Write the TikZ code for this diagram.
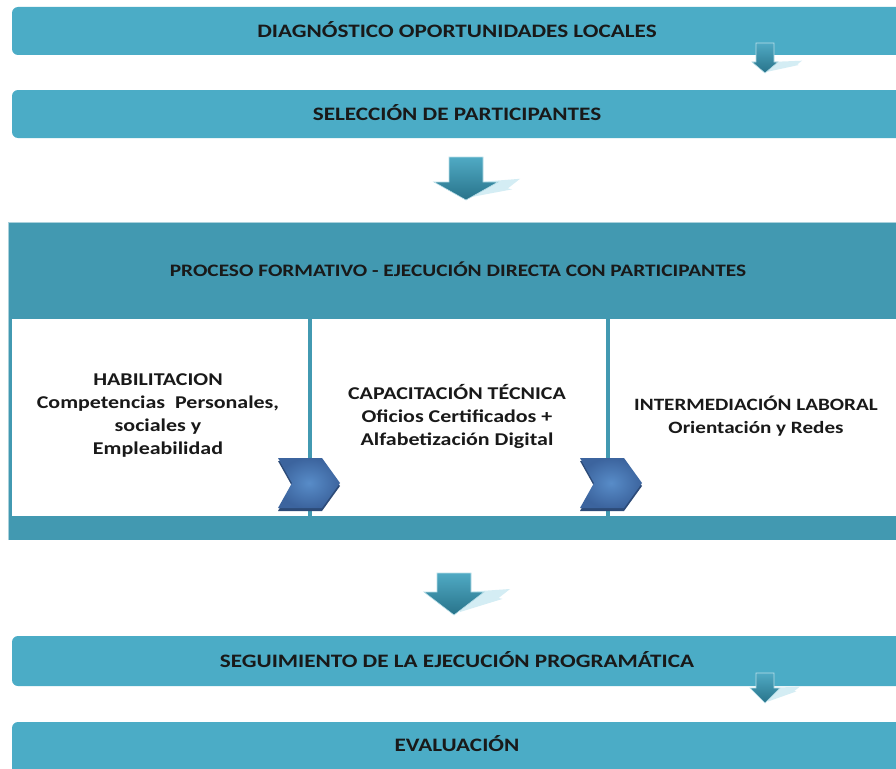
\documentclass[tikz,border=0pt]{standalone}
\usepackage{fontspec}
\setmainfont{Carlito}[FakeStretch=1.22]
\definecolor{barc}{RGB}{75,172,198}
\definecolor{boxc}{RGB}{66,153,177}
\definecolor{chevc}{RGB}{60,100,158}
\definecolor{chevl}{RGB}{88,140,200}
\definecolor{chevd}{RGB}{45,75,120}
\definecolor{shad}{RGB}{212,237,244}
\definecolor{arrtop}{RGB}{80,170,196}
\definecolor{arrbot}{RGB}{40,115,138}
\tikzset{
  bar/.style={fill=barc, rounded corners=6pt},
  lbl/.style={font=\bfseries\fontsize{18}{23}\selectfont, align=center, text=black!90, inner sep=0pt},
  hlbl/.style={lbl, font=\bfseries\fontsize{19}{23}\selectfont},
}
\newcommand{\blockarrow}[7]{%
  \fill[shad] ({#1+0.4*#6},{#3}) -- ({#7},{#3-0.1*#6}) -- ({#7-0.38*#6},{#3+0.2*#6}) -- ({#7-0.25*#6},{#3+0.23*#6}) -- ({#1+0.2*#6},{#4-0.1*#6}) -- cycle;
  \shade[top color=arrtop, bottom color=arrbot, draw=white!60!barc, line width=0.6pt]
    ({#1-#5},{#2}) -- ({#1+#5},{#2}) -- ({#1+#5},{#3}) -- ({#1+#6},{#3}) -- ({#1},{#4}) -- ({#1-#6},{#3}) -- ({#1-#5},{#3}) -- cycle;
}
\newcommand{\chevshape}[2]{%
  \fill[chevd] ({#1},{#2-22}) -- ({#1+44},{#2-22}) -- ({#1+62},{#2+3}) -- ({#1+44},{#2+28}) -- ({#1},{#2+28}) -- ({#1+14},{#2+3}) -- cycle;
  \shade[inner color=chevl, outer color=chevc] ({#1},{#2-25}) -- ({#1+44},{#2-25}) -- ({#1+62},{#2}) -- ({#1+44},{#2+25}) -- ({#1},{#2+25}) -- ({#1+14},{#2}) -- cycle;
}
\begin{document}
\begin{tikzpicture}[x=1pt,y=-1pt]
\useasboundingbox (0,0) rectangle (896,768);
\clip (0,0) rectangle (896,768);
\fill[white] (0,0) rectangle (896,768);
% top bars
\fill[bar] (12,7) rectangle (910,55);
\fill[bar] (12,90) rectangle (910,138);
\node[hlbl] (t1) at (457,30) {DIAGNÓSTICO OPORTUNIDADES LOCALES};
\node[hlbl] (t2) at (457,113) {SELECCIÓN DE PARTICIPANTES};
\blockarrow{765}{43}{62}{73}{9}{13}{802}
\blockarrow{466}{157}{182}{200}{17}{32}{520}
% big box
\fill[boxc] (8,222) rectangle (910,540);
\draw[white!55!boxc, line width=0.8pt] (8.4,540) -- (8.4,222.4) -- (910,222.4);
\fill[white] (12,319) rectangle (910,516);
\fill[boxc] (308,319) rectangle (312,516);
\fill[boxc] (606,319) rectangle (610,516);
\node[lbl, font=\bfseries\fontsize{17.5}{23}\selectfont] (t3) at (458,269) {PROCESO FORMATIVO - EJECUCIÓN DIRECTA CON PARTICIPANTES};
\node[lbl] (h) at (158,416) {HABILITACION\\Competencias\ \ Personales,\\sociales y\\Empleabilidad};
\node[lbl] (c) at (457,416) {CAPACITACIÓN TÉCNICA\\Oficios Certificados +\\Alfabetización Digital};
\node[lbl, font=\bfseries\fontsize{17.3}{23}\selectfont] (i) at (756,416.5) {INTERMEDIACIÓN LABORAL\\Orientación y Redes};
\chevshape{278}{483}
\chevshape{580}{483}
% lower
\blockarrow{454}{573}{592}{615}{17}{30}{510}
\fill[bar] (12,636) rectangle (910,686);
\fill[bar] (12,722) rectangle (910,790);
\node[hlbl] (t4) at (457,660) {SEGUIMIENTO DE LA EJECUCIÓN PROGRAMÁTICA};
\node[hlbl] (t5) at (457,744) {EVALUACIÓN};
\blockarrow{765}{673}{688}{703}{9}{15}{800}
\end{tikzpicture}
\end{document}
